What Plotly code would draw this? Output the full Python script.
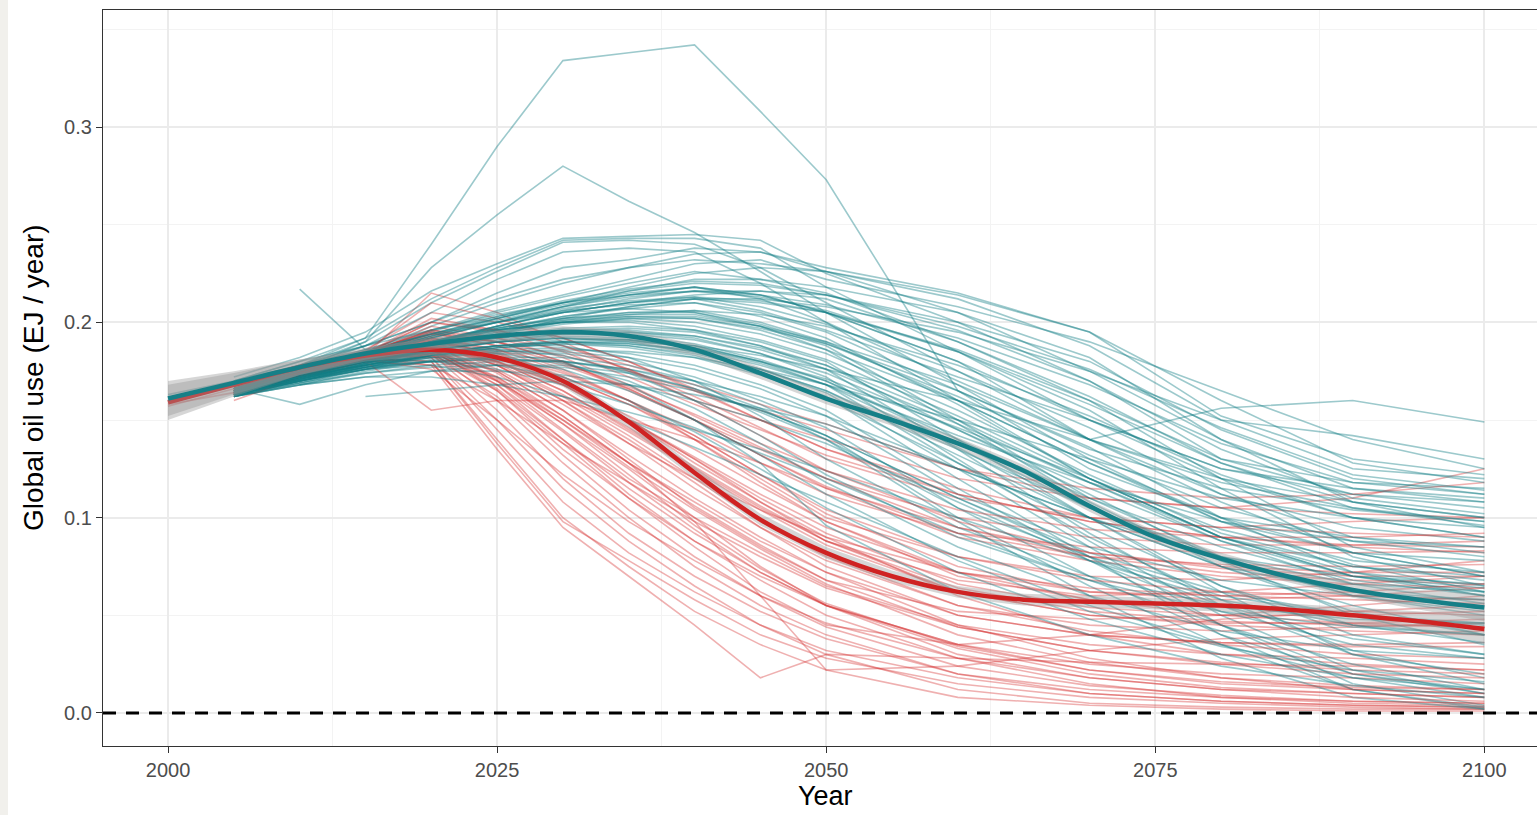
import plotly.graph_objects as go

N = None

# Reporting years shared by all scenario pathways
years = [2000, 2005, 2010, 2015, 2020, 2025, 2030, 2035, 2040, 2045, 2050,
         2060, 2070, 2080, 2090, 2100]

# Global oil use pathways (EJ / year), scenario group B (teal)
teal_scenarios = [
    [N, .170, .178, .192, .240, .290, .334, .338, .342, .308, .273, .165, .125, .100, .082, .070],
    [N, .168, .176, .190, .228, .255, .280, .262, .246, .226, .205, .168, .130, .098, .076, .062],
    [N, .172, .182, .195, .216, .230, .243, .244, .245, .242, .225, .200, .170, .130, .112, .105],
    [N, .170, .180, .192, .212, .228, .242, .243, .243, .238, .218, .185, .150, .120, .100, .090],
    [N, .168, .178, .190, .210, .226, .241, .242, .240, .228, .210, .175, .140, .112, .095, .088],
    [N, .166, .176, .188, .205, .222, .236, .238, .236, .220, .200, .160, .120, .090, .070, .060],
    [N, .168, .178, .188, .200, .215, .228, .232, .238, .236, .226, .212, .188, .150, .125, .120],
    [N, .165, .175, .185, .198, .210, .220, .228, .235, .236, .228, .215, .195, .152, .130, .122],
    [N, .164, .174, .184, .196, .206, .214, .222, .230, .232, .222, .208, .190, .165, .140, .125],
    [N, .166, .176, .186, .196, .204, .210, .214, .218, .214, .205, .180, .140, .156, .160, .149],
    [N, .168, .178, .188, .200, .212, .222, .228, .232, .230, .226, .205, .175, .150, .142, .130],
    [N, .165, .174, .183, .195, .205, .213, .220, .226, .222, .215, .190, .160, .130, .118, .115],
    [N, .164, .172, .182, .192, .200, .208, .214, .218, .214, .205, .180, .150, .125, .115, .110],
    [N, .166, .175, .184, .194, .202, .210, .215, .218, .212, .200, .170, .140, .120, .108, .100],
    [N, .163, .172, .180, .190, .197, .203, .207, .210, .205, .195, .165, .135, .115, .104, .098],
    [N, .165, .173, .181, .190, .198, .205, .210, .212, .206, .196, .172, .150, .125, .112, .108],
    [N, .164, .172, .180, .188, .195, .201, .205, .206, .200, .190, .160, .128, .100, .090, .085],
    [N, .166, .174, .183, .193, .200, .206, .209, .210, .203, .192, .158, .120, .090, .075, .070],
    [N, .163, .171, .179, .188, .196, .203, .208, .212, .210, .205, .185, .158, .128, .108, .095],
    [N, .165, .174, .182, .190, .197, .202, .204, .204, .198, .188, .150, .110, .080, .060, .050],
    [.163, .170, .178, .186, .194, .200, .205, .207, .205, .198, .186, .148, .108, .075, .052, .040],
    [N, .164, .172, .180, .188, .193, .197, .198, .196, .190, .180, .140, .100, .065, .040, .030],
    [N, .166, .175, .183, .191, .196, .200, .200, .196, .188, .176, .135, .092, .055, .030, .020],
    [N, .162, .170, .178, .186, .192, .196, .197, .195, .188, .178, .145, .115, .088, .070, .062],
    [N, .164, .172, .180, .187, .192, .195, .195, .192, .184, .172, .130, .088, .050, .022, .010],
    [N, .163, .171, .179, .186, .190, .193, .192, .188, .180, .168, .128, .090, .058, .032, .018],
    [N, .165, .173, .181, .188, .192, .194, .193, .189, .181, .170, .138, .105, .078, .060, .052],
    [N, .162, .170, .177, .184, .188, .190, .189, .185, .176, .164, .125, .085, .045, .015, .004],
    [N, .164, .171, .178, .184, .188, .190, .188, .183, .174, .162, .120, .080, .040, .012, .003],
    [N, .163, .170, .177, .183, .186, .187, .184, .178, .168, .155, .115, .078, .045, .020, .010],
    [N, .162, .169, .176, .182, .185, .185, .182, .176, .166, .152, .112, .085, .068, .060, .058],
    [N, .164, .171, .177, .182, .184, .184, .180, .172, .160, .146, .105, .070, .040, .020, .012],
    [N, .165, .172, .178, .183, .185, .186, .185, .182, .176, .168, .150, .130, .110, .100, .095],
    [N, .163, .170, .176, .180, .182, .182, .178, .170, .158, .142, .100, .065, .035, .012, .002],
    [N, .162, .168, .174, .178, .180, .180, .176, .168, .156, .140, .098, .060, .028, .008, .002],
    [N, N, .168, .175, .180, .181, .180, .175, .166, .154, .140, .105, .080, .060, .050, .046],
    [N, .164, .170, .176, .180, .181, .180, .176, .170, .162, .152, .125, .100, .080, .070, .066],
    [N, .163, .169, .174, .177, .178, .177, .172, .165, .155, .142, .110, .082, .062, .050, .045],
    [N, .162, .168, .172, .175, .175, .173, .168, .160, .150, .138, .108, .078, .052, .035, .028],
    [N, .165, .172, .178, .183, .187, .190, .190, .188, .183, .176, .160, .140, .118, .105, .098],
    [N, N, N, .162, .165, .168, .170, .168, .163, .156, .148, .125, .100, .075, .055, .040],
    [N, .166, .158, .168, .175, .178, .178, .174, .166, .155, .142, .110, .080, .055, .038, .030],
    [N, N, .217, .186, .186, .190, .194, .195, .193, .187, .178, .150, .118, .090, .072, .065],
    [N, .163, .170, .176, .178, .172, .162, .150, .136, .122, .108, .080, .055, .035, .018, .008],
    [N, .164, .171, .177, .180, .176, .168, .158, .146, .133, .120, .092, .068, .045, .025, .012],
    [N, .162, .168, .172, .172, .168, .162, .154, .145, .135, .124, .100, .078, .058, .045, .040],
    [N, .165, .172, .178, .186, .194, .202, .208, .212, .212, .208, .195, .175, .140, .115, .108],
    [N, .166, .174, .182, .190, .198, .205, .210, .214, .216, .214, .200, .180, .145, .120, .112],
    [N, .164, .172, .180, .186, .190, .192, .190, .185, .176, .165, .132, .100, .075, .062, .058],
    [N, .163, .171, .179, .187, .194, .200, .204, .206, .204, .198, .178, .152, .122, .100, .090],
    [N, .165, .173, .181, .189, .196, .201, .203, .202, .196, .186, .160, .128, .098, .082, .078],
    [N, .164, .172, .180, .189, .198, .206, .212, .216, .216, .212, .190, .162, .128, .105, .096],
    [N, .162, .169, .176, .183, .188, .191, .191, .188, .180, .170, .140, .110, .085, .068, .060],
    [N, .164, .171, .178, .184, .188, .190, .189, .186, .178, .168, .142, .118, .098, .088, .085],
    [N, .163, .170, .177, .183, .187, .189, .188, .184, .176, .165, .135, .105, .080, .066, .062],
    [.160, .168, .176, .184, .190, .196, .200, .202, .200, .194, .184, .155, .122, .092, .075, .068],
    [N, .170, .180, .188, .196, .203, .210, .218, .225, .228, .226, .214, .195, .160, .128, .118],
    [N, .166, .175, .184, .192, .200, .208, .216, .222, .222, .218, .205, .182, .140, .108, .100],
    [N, .167, .176, .185, .194, .203, .211, .217, .221, .220, .214, .196, .170, .135, .110, .102],
    [N, .165, .174, .183, .192, .200, .207, .211, .213, .208, .199, .175, .146, .112, .090, .082],
    [N, .164, .173, .182, .190, .197, .202, .205, .205, .199, .189, .162, .132, .105, .088, .080],
    [N, .166, .175, .184, .193, .201, .208, .213, .216, .214, .209, .192, .168, .138, .118, .112],
    [N, .163, .171, .179, .186, .191, .194, .194, .191, .184, .174, .145, .112, .078, .050, .035],
    [N, .165, .173, .181, .188, .193, .196, .196, .193, .186, .176, .148, .118, .088, .066, .056],
    [N, .164, .172, .180, .188, .195, .200, .203, .203, .198, .190, .168, .140, .108, .082, .070],
    [N, .166, .175, .184, .193, .202, .210, .216, .220, .219, .214, .198, .176, .146, .122, .114],
    [N, .162, .170, .178, .185, .190, .192, .191, .187, .179, .168, .136, .100, .062, .030, .015],
    [N, .165, .173, .180, .186, .190, .192, .191, .187, .180, .171, .146, .120, .094, .078, .072],
    [N, .163, .171, .179, .187, .194, .199, .202, .202, .197, .189, .165, .136, .100, .072, .060],
    [N, .164, .172, .181, .190, .198, .205, .210, .213, .211, .205, .186, .160, .120, .085, .072],
    [N, .167, .176, .185, .194, .202, .209, .214, .216, .213, .206, .185, .155, .115, .080, .065],
    [N, .163, .170, .177, .183, .187, .189, .187, .182, .173, .161, .128, .095, .065, .045, .036],
    [N, .166, .174, .182, .190, .196, .200, .201, .198, .191, .181, .152, .120, .090, .070, .064],
    [N, .164, .171, .177, .180, .178, .172, .160, .144, .125, .105, .072, .048, .030, .018, .012],
    [N, .165, .172, .178, .182, .181, .176, .165, .150, .132, .112, .078, .052, .034, .022, .016],
    [N, .163, .170, .176, .181, .182, .179, .170, .156, .138, .118, .085, .060, .042, .032, .028],
    [N, .166, .173, .180, .185, .186, .183, .174, .160, .142, .122, .090, .068, .052, .044, .040],
    [N, .164, .171, .178, .183, .184, .180, .168, .150, .128, .096, .062, .040, .024, .014, .008],
    [N, .165, .172, .179, .185, .188, .188, .182, .170, .152, .130, .095, .070, .055, .048, .046],
]

# Global oil use pathways (EJ / year), scenario group A (red)
red_scenarios = [
    [.157, .166, .176, .183, .215, .205, .190, .175, .160, .150, .140, .120, .110, .105, .110, .125],
    [N, .168, .178, .186, .205, .200, .192, .180, .165, .150, .135, .115, .100, .095, .098, .100],
    [N, .166, .176, .184, .200, .196, .188, .178, .168, .158, .148, .125, .110, .105, .102, .100],
    [N, .165, .175, .183, .195, .190, .180, .165, .150, .135, .120, .100, .090, .086, .086, .088],
    [N, .167, .177, .185, .192, .185, .172, .158, .140, .120, .100, .080, .070, .068, .072, .078],
    [N, .164, .174, .182, .190, .180, .165, .145, .125, .105, .088, .068, .060, .062, .066, .070],
    [N, .166, .176, .184, .188, .175, .155, .130, .105, .085, .068, .052, .048, .050, .055, .060],
    [N, .165, .175, .183, .190, .170, .145, .120, .100, .082, .065, .045, .035, .030, .028, .025],
    [N, .163, .173, .181, .186, .165, .135, .110, .088, .070, .055, .035, .025, .020, .018, .015],
    [N, .164, .174, .182, .185, .160, .128, .100, .075, .055, .040, .020, .010, .006, .004, .003],
    [N, .162, .172, .180, .182, .150, .115, .088, .065, .045, .030, .012, .005, .003, .002, .002],
    [N, .165, .175, .182, .180, .140, .100, .075, .052, .035, .022, .008, .004, .002, .001, .001],
    [N, .163, .172, .180, .178, .135, .095, .070, .045, .018, .030, .028, .026, .025, .024, .022],
    [N, .166, .176, .184, .188, .178, .160, .140, .118, .095, .075, .050, .040, .036, .035, .036],
    [N, .167, .177, .185, .195, .188, .176, .160, .140, .118, .098, .070, .058, .054, .052, .050],
    [N, .165, .175, .183, .192, .186, .178, .166, .150, .132, .115, .090, .078, .070, .066, .064],
    [N, .164, .174, .182, .188, .182, .172, .158, .142, .122, .102, .075, .062, .058, .060, .064],
    [N, .166, .176, .184, .190, .184, .170, .150, .128, .108, .090, .060, .040, .030, .025, .022],
    [N, .163, .173, .181, .185, .175, .155, .132, .110, .090, .072, .045, .028, .018, .012, .010],
    [N, .165, .175, .183, .186, .170, .148, .125, .100, .075, .055, .030, .018, .012, .010, .008],
    [N, .164, .174, .182, .184, .172, .152, .128, .098, .060, .022, .024, .032, .038, .040, .042],
    [N, .166, .176, .184, .200, .195, .185, .172, .158, .145, .132, .112, .098, .090, .085, .082],
    [N, .165, .175, .183, .198, .192, .182, .168, .152, .136, .120, .095, .080, .072, .068, .066],
    [N, .163, .173, .181, .190, .178, .160, .138, .115, .095, .078, .055, .045, .042, .044, .046],
    [N, .164, .174, .182, .187, .168, .140, .112, .088, .068, .050, .028, .015, .008, .005, .004],
    [N, .165, .175, .182, .184, .155, .120, .092, .070, .052, .038, .020, .012, .008, .006, .005],
    [N, .166, .176, .183, .182, .145, .108, .082, .062, .045, .032, .018, .010, .006, .004, .003],
    [N, .164, .174, .181, .180, .138, .098, .078, .058, .040, .028, .015, .008, .005, .003, .002],
    [N, .165, .175, .183, .194, .190, .183, .175, .165, .155, .145, .125, .115, .110, .112, .118],
    [N, .166, .176, .184, .196, .192, .186, .176, .162, .146, .130, .110, .100, .095, .092, .090],
    [N, .164, .174, .182, .191, .184, .174, .160, .145, .128, .112, .092, .085, .082, .082, .083],
    [N, .163, .172, .180, .187, .180, .168, .152, .135, .116, .098, .072, .058, .050, .046, .044],
    [N, .165, .175, .183, .189, .178, .162, .142, .120, .098, .080, .055, .042, .035, .030, .028],
    [N, .164, .174, .182, .187, .172, .150, .126, .104, .084, .066, .040, .026, .018, .014, .012],
    [N, .166, .176, .184, .186, .166, .140, .115, .092, .072, .055, .035, .022, .015, .012, .010],
    [N, .163, .173, .181, .184, .165, .138, .110, .085, .062, .045, .035, .040, .048, .052, .055],
    [.158, .164, .174, .182, .183, .170, .150, .128, .108, .088, .072, .050, .040, .036, .034, .034],
    [N, .167, .177, .185, .210, .202, .192, .180, .166, .150, .135, .112, .098, .090, .086, .085],
    [N, .166, .176, .184, .202, .196, .188, .176, .160, .142, .124, .098, .082, .074, .070, .070],
    [N, .165, .175, .183, .193, .186, .175, .160, .142, .122, .104, .080, .068, .062, .060, .058],
    [N, .164, .174, .182, .178, .160, .138, .118, .098, .080, .064, .044, .032, .025, .020, .018],
    [N, .163, .173, .181, .176, .150, .122, .098, .078, .060, .046, .028, .018, .012, .008, .006],
    [N, .160, .172, .180, .155, .160, .160, .150, .140, .128, .115, .095, .082, .075, .072, .072],
    [N, .165, .175, .183, .190, .176, .158, .138, .120, .104, .090, .072, .064, .060, .058, .056],
    [N, .166, .176, .184, .188, .180, .168, .150, .130, .108, .088, .062, .050, .046, .046, .048],
    [N, .165, .175, .183, .192, .183, .168, .150, .130, .110, .092, .066, .054, .050, .050, .052],
    [N, .164, .174, .182, .188, .174, .152, .128, .106, .086, .068, .044, .032, .026, .022, .020],
    [N, .166, .176, .184, .196, .190, .180, .166, .150, .132, .116, .092, .080, .076, .075, .076],
    [N, .163, .173, .181, .183, .162, .132, .104, .080, .060, .044, .024, .014, .009, .006, .005],
    [N, .165, .175, .183, .190, .179, .163, .144, .124, .104, .086, .062, .050, .045, .042, .040],
    [N, .164, .174, .182, .186, .171, .148, .122, .096, .074, .056, .034, .022, .016, .013, .012],
    [N, .166, .176, .184, .194, .188, .179, .167, .153, .138, .124, .104, .094, .090, .090, .092],
    [N, .165, .175, .183, .191, .182, .168, .150, .131, .112, .095, .072, .062, .060, .062, .066],
    [N, .163, .173, .181, .185, .168, .144, .118, .094, .072, .055, .033, .020, .013, .010, .008],
    [N, .164, .174, .182, .189, .180, .165, .146, .126, .106, .088, .064, .052, .047, .045, .044],
]

# Smoothed group trends with confidence bands
trend_years = list(range(2000, 2101, 5))
red_trend = [0.159, 0.168, 0.177, 0.183, 0.186, 0.182, 0.170, 0.149, 0.123, 0.099, 0.082,
             0.070, 0.062, 0.058, 0.057, 0.056, 0.055, 0.053, 0.050, 0.047, 0.043]
teal_trend = [0.161, 0.169, 0.177, 0.184, 0.189, 0.193, 0.195, 0.193, 0.186, 0.174, 0.161,
              0.150, 0.138, 0.124, 0.106, 0.090, 0.079, 0.070, 0.063, 0.058, 0.054]
trend_halfwidth = [0.009, 0.006, 0.004, 0.003, 0.003, 0.003, 0.003, 0.003, 0.003, 0.003, 0.003,
                   0.003, 0.003, 0.003, 0.003, 0.003, 0.003, 0.003, 0.004, 0.005, 0.007]

RED_THIN = "rgba(214,48,48,0.38)"
TEAL_THIN = "rgba(18,126,134,0.42)"
RED_THICK = "#CF2222"
TEAL_THICK = "#167F87"

FONT = "Liberation Sans, Arial, sans-serif"

fig = go.Figure()

# Thin scenario lines, interleaving the two groups
n = max(len(teal_scenarios), len(red_scenarios))
for i in range(n):
    if i < len(red_scenarios):
        fig.add_trace(go.Scatter(x=years, y=red_scenarios[i], mode="lines",
                                 line=dict(color=RED_THIN, width=1.6),
                                 hoverinfo="skip", showlegend=False))
    if i < len(teal_scenarios):
        fig.add_trace(go.Scatter(x=years, y=teal_scenarios[i], mode="lines",
                                 line=dict(color=TEAL_THIN, width=1.6),
                                 hoverinfo="skip", showlegend=False))

# Confidence ribbons and trend lines
for trend, col in ((red_trend, RED_THICK), (teal_trend, TEAL_THICK)):
    upper = [v + h for v, h in zip(trend, trend_halfwidth)]
    lower = [v - h for v, h in zip(trend, trend_halfwidth)]
    fig.add_trace(go.Scatter(x=trend_years + trend_years[::-1], y=upper + lower[::-1],
                             fill="toself", fillcolor="rgba(153,153,153,0.4)",
                             line=dict(width=0), mode="lines",
                             hoverinfo="skip", showlegend=False))
    fig.add_trace(go.Scatter(x=trend_years, y=trend, mode="lines",
                             line=dict(color=col, width=4.5, shape="spline"),
                             hoverinfo="skip", showlegend=False))

# Zero reference line
fig.add_shape(type="line", xref="paper", yref="y", x0=0, x1=1, y0=0, y1=0,
              line=dict(color="black", width=3, dash="13px,10px"))

# Light strip along the left edge of the canvas
fig.add_shape(type="rect", xref="paper", yref="paper",
              x0=-103 / 1434, x1=-95 / 1434, y0=-69 / 736, y1=1 + 10 / 736,
              fillcolor="#F1F0EC", line=dict(width=0), layer="below")

# Axis titles
fig.add_annotation(text="Year", xref="paper", yref="paper",
                   x=(826 - 103) / 1434, y=(746 - 796) / 736,
                   xanchor="center", yanchor="middle", showarrow=False,
                   font=dict(family=FONT, size=27, color="black"))
fig.add_annotation(text="Global oil use (EJ / year)", xref="paper", yref="paper",
                   x=(33 - 103) / 1434, y=(746 - 378) / 736, textangle=-90,
                   xanchor="center", yanchor="middle", showarrow=False,
                   font=dict(family=FONT, size=28, color="black"))

tick_font = dict(family=FONT, size=20, color="#4D4D4D")

fig.update_layout(
    width=1537, height=815,
    margin=dict(l=103, r=0, t=10, b=69),
    paper_bgcolor="white", plot_bgcolor="white",
    showlegend=False,
    xaxis=dict(
        range=[1995.06, 2104.0], tick0=2000, dtick=25, tickmode="linear",
        showgrid=True, gridcolor="#EBEBEB", gridwidth=1.5,
        minor=dict(dtick=12.5, tick0=2000, showgrid=True, gridcolor="#F3F3F3", gridwidth=0.8),
        zeroline=False, showline=True, linecolor="#333333", linewidth=1.3, mirror=True,
        ticks="outside", ticklen=6, tickcolor="#333333", tickwidth=1.3,
        tickfont=tick_font,
    ),
    yaxis=dict(
        range=[-0.0169, 0.3599], tick0=0, dtick=0.1, tickmode="linear", tickformat=".1f",
        showgrid=True, gridcolor="#EBEBEB", gridwidth=1.5,
        minor=dict(dtick=0.05, tick0=0, showgrid=True, gridcolor="#F3F3F3", gridwidth=0.8),
        zeroline=False, showline=True, linecolor="#333333", linewidth=1.3, mirror=False,
        ticks="outside", ticklen=6, tickcolor="#333333", tickwidth=1.3,
        tickfont=tick_font,
    ),
)

fig.write_html("out.html")
